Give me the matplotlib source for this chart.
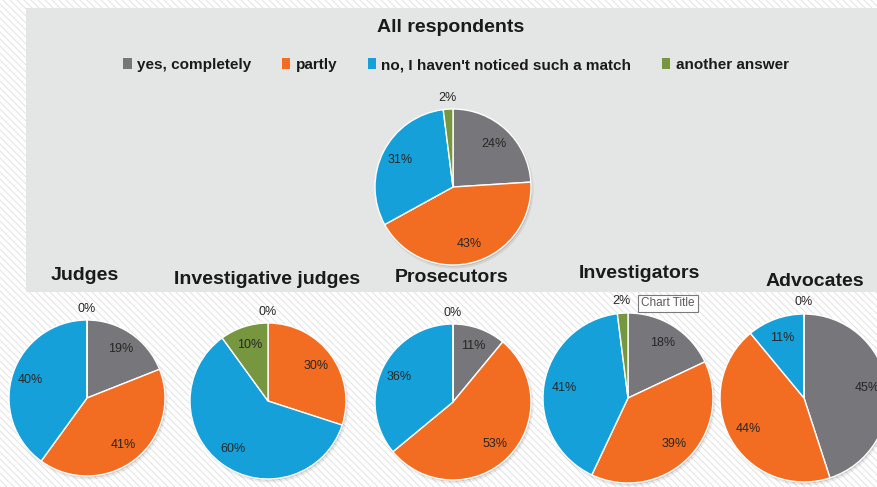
import matplotlib.pyplot as plt
from matplotlib.patches import Rectangle, Circle, Patch
import numpy as np

plt.rcParams['font.family'] = ['Liberation Sans', 'DejaVu Sans']

# answer categories and colours
answers = ['yes, completely', 'partly', "no, I haven't noticed such a match", 'another answer']
colors = ['#77777b', '#f26d21', '#16a0d9', '#76963f']

# share of answers (%) per group, in the order of answers
groups = ['All respondents', 'Judges', 'Investigative judges', 'Prosecutors', 'Investigators', 'Advocates']
all_resp = [24, 43, 31, 2]
judges = [19, 41, 40, 0]
inv_judges = [0, 30, 60, 10]
prosecutors = [11, 53, 36, 0]
investigators = [18, 39, 41, 2]
advocates = [45, 44, 11, 0]
values = [all_resp, judges, inv_judges, prosecutors, investigators, advocates]

W, H = 878, 487

# layout in pixels from the top-left corner: pie centre, radius, title position
pies = [(453, 187, 78), (87, 398, 78), (268, 401, 78),
        (453, 402, 78), (628, 398, 85), (804, 398, 84)]
titles = [(451, 28), (85, 275), (267, 279), (452, 278), (639, 274), (815, 281)]

fig = plt.figure(figsize=(W / 100, H / 100), dpi=100)
ax = fig.add_axes([0, 0, 1, 1])


def Y(y):
    return H - y


# striped background and grey panel
ax.add_patch(Rectangle((0, 0), W, H, facecolor='white', edgecolor='none', zorder=0))
for x0 in np.arange(-H, W, 7):
    ax.plot([x0, x0 + H], [H, 0], color='#e2e2e2', lw=0.7, zorder=0.5)
ax.add_patch(Rectangle((26, Y(292)), W - 26, 284, facecolor='#e4e5e5',
                       edgecolor='none', zorder=1))

for vals, (cx, cy, r), (tx, ty), name in zip(values, pies, titles, groups):
    # soft shadow
    ax.add_patch(Circle((cx + 1.5, Y(cy) - 2.5), r + 1, color='black', alpha=0.07, lw=0, zorder=2))
    ax.add_patch(Circle((cx + 1, Y(cy) - 1.5), r, color='black', alpha=0.12, lw=0, zorder=2))
    wedges, _ = ax.pie(vals, colors=colors, startangle=90, counterclock=False,
                       center=(cx, Y(cy)), radius=r, frame=True,
                       wedgeprops=dict(edgecolor='white', linewidth=1.0))
    for w in wedges:
        w.set_zorder(3)
    for w, v in zip(wedges, vals):
        mid = np.deg2rad((w.theta1 + w.theta2) / 2)
        d = 1.14 if v <= 2 else 0.76
        ax.text(cx + d * r * np.cos(mid), Y(cy) + d * r * np.sin(mid), f'{v}%',
                ha='center', va='center', fontsize=9, color='#262626', zorder=5)
    ax.text(tx, Y(ty), name, ha='center', va='center', fontsize=14,
            fontweight='bold', color='#1a1a1a', zorder=5)

# legend
handles = [Patch(facecolor=c, edgecolor='none', label=a) for a, c in zip(answers, colors)]
ax.legend(handles=handles, loc='center', bbox_to_anchor=(456 / W, 1 - 65 / H),
          ncol=4, frameon=False, prop=dict(size=11, weight='bold'),
          handlelength=0.55, handleheight=0.7, handletextpad=0.35,
          columnspacing=2.0, labelcolor='#1a1a1a')

# tooltip left over from the screenshot
ax.text(668, Y(303.5), 'Chart Title', ha='center', va='center', fontsize=8.5,
        color='#595959', zorder=6,
        bbox=dict(boxstyle='square,pad=0.25', fc='white', ec='#7a7a7a', lw=0.8))

ax.set_xlim(0, W)
ax.set_ylim(0, H)
ax.set_aspect('auto')
ax.axis('off')

fig.savefig('out.png', dpi=100)
